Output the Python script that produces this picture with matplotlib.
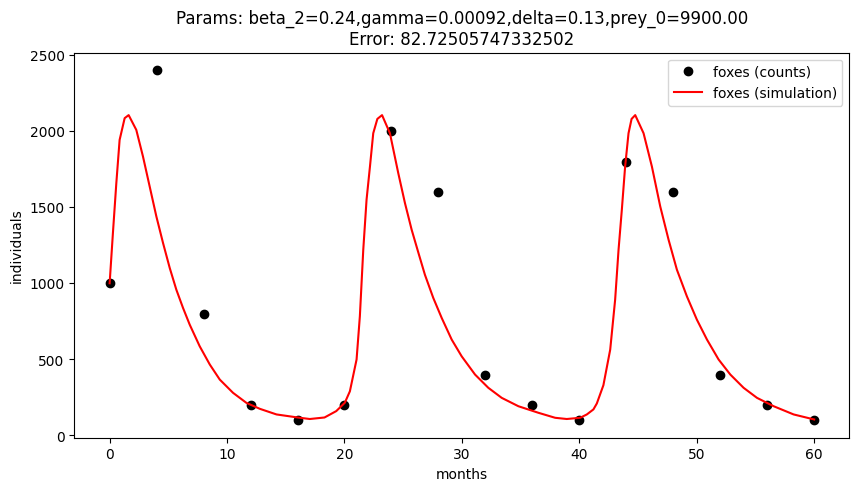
import numpy as np
import matplotlib
matplotlib.use("Agg")
import matplotlib.pyplot as plt

# observed fox counts, every 4 months
count_months = [0, 4, 8, 12, 16, 20, 24, 28, 32, 36, 40, 44, 48, 52, 56, 60]
count_foxes = [1000, 2400, 800, 200, 100, 200, 2000, 1600, 400, 200, 100, 1800, 1600, 400, 200, 100]

# simulated curve
sim_months = [0.0, 0.28, 0.57, 0.85, 1.28, 1.62, 2.27, 2.84, 3.41, 3.98, 4.55, 5.12,
              5.68, 6.25, 6.82, 7.67, 8.53, 9.38, 10.51, 11.65, 12.79, 14.21, 16.2,
              17.05, 18.3, 19.3, 20.03, 20.46, 21.03, 21.31, 21.6, 21.88, 22.17,
              22.45, 22.8, 23.2, 23.87, 24.58, 25.15, 25.72, 26.3, 26.85, 27.56,
              28.28, 29.13, 29.98, 31.12, 32.25, 33.39, 34.81, 36.51, 37.94, 38.93,
              40.07, 40.64, 41.2, 41.49, 42.05, 42.63, 43.05, 43.34, 43.62, 43.9,
              44.19, 44.45, 44.76, 45.47, 46.18, 46.89, 47.6, 48.31, 49.16, 50.01,
              50.87, 51.86, 52.86, 53.99, 55.13, 56.55, 58.25, 60.0]
sim_foxes = [1000, 1330, 1658, 1942, 2085, 2105, 2008, 1833, 1636, 1439, 1264, 1100,
             958, 838, 728, 586, 466, 367, 280, 214, 175, 138, 116,
             108, 118, 160, 215, 290, 499, 783, 1220, 1549, 1767,
             1986, 2080, 2105, 1986, 1724, 1527, 1352, 1199, 1056, 904,
             772, 630, 520, 400, 313, 247, 192, 149, 116, 108,
             116, 138, 171, 210, 330, 564, 892, 1220, 1483, 1767,
             1986, 2080, 2105, 1986, 1767, 1505, 1286, 1089, 914, 761,
             630, 499, 400, 313, 247, 192, 138, 105]

title = ("Params: beta_2=0.24,gamma=0.00092,delta=0.13,prey_0=9900.00\n"
         "Error: 82.72505747332502")

fig, ax = plt.subplots(figsize=(10, 5))
ax.plot(count_months, count_foxes, 'ko', label='foxes (counts)')
ax.plot(sim_months, sim_foxes, 'r-', label='foxes (simulation)')
ax.set_xlabel('months')
ax.set_ylabel('individuals')
ax.set_title(title)
ax.legend(loc='upper right')

plt.savefig('out.png', dpi=100, bbox_inches='tight')
